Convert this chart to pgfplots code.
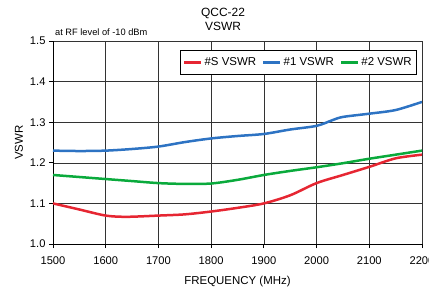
\documentclass[border=0pt]{standalone}
\usepackage{pgfplots}
\pgfplotsset{compat=1.18}
\usepackage{fontspec}
\setmainfont{Liberation Sans}
\definecolor{cred}{RGB}{230,38,50}
\definecolor{cblue}{RGB}{45,115,195}
\definecolor{cgreen}{RGB}{10,170,60}
\begin{document}
\begin{tikzpicture}
\begin{axis}[
  at={(0,0)}, anchor=south west,
  scale only axis, width=369bp, height=203bp,
  xmin=1500, xmax=2200, ymin=1.0, ymax=1.5,
  xtick={1500,1600,...,2200},
  ytick={1.0,1.1,...,1.5},
  yticklabel style={/pgf/number format/.cd,fixed,fixed zerofill,precision=1},
  xticklabel style={/pgf/number format/1000 sep={}, yshift=-5bp},
  /pgf/number format/assume math mode=true,
  ticklabel style={font=\fontsize{11.2}{13}\selectfont},
  axis x line*=bottom, axis y line*=left,
  axis line style={black, line width=1pt, -},
  tick align=outside, tick pos=left,
  major tick length=4bp,
  tick style={black, line width=0.8pt},
  grid=major,
  major grid style={black!80, line width=0.6pt},
  xlabel={FREQUENCY (MHz)},
  ylabel={VSWR},
  label style={font=\fontsize{11.5}{13}\selectfont},
  xlabel style={at={(axis description cs:0.5,0)}, anchor=center, yshift=-38bp},
  ylabel style={at={(axis description cs:0,0.5)}, anchor=center, yshift=34bp},
  legend columns=3,
  legend style={at={(0.9865,0.9557)}, anchor=north east,
    font=\fontsize{11.5}{13}\selectfont, draw=black, line width=0.6pt,
    inner xsep=3bp, inner ysep=5.5bp,
    /tikz/every even column/.append style={column sep=4bp}},
  every axis plot/.append style={line width=2.5bp, smooth},
]
\addplot[cred] coordinates {(1500,1.100) (1550,1.085) (1600,1.070) (1640,1.067) (1700,1.070) (1750,1.073) (1800,1.080) (1850,1.089) (1900,1.100) (1950,1.120) (2000,1.150) (2050,1.170) (2100,1.190) (2150,1.211) (2200,1.220)};
\addlegendentry{\#S VSWR}
\addplot[cblue] coordinates {(1500,1.230) (1550,1.229) (1600,1.230) (1650,1.234) (1700,1.240) (1750,1.251) (1800,1.260) (1850,1.266) (1900,1.271) (1950,1.282) (2000,1.291) (2030,1.305) (2050,1.313) (2100,1.321) (2150,1.330) (2200,1.350)};
\addlegendentry{\#1 VSWR}
\addplot[cgreen] coordinates {(1500,1.170) (1550,1.165) (1600,1.160) (1650,1.155) (1700,1.150) (1750,1.148) (1800,1.149) (1850,1.158) (1900,1.170) (1950,1.180) (2000,1.189) (2050,1.199) (2100,1.210) (2150,1.220) (2200,1.230)};
\addlegendentry{\#2 VSWR}
\end{axis}
\node[font=\fontsize{12}{14}\selectfont, align=center] at (170bp,225bp) {QCC-22\\VSWR};
\node[font=\fontsize{9.3}{11}\selectfont, anchor=west, inner sep=0pt] at (2bp,212bp) {at RF level of -10 dBm};
\pgfresetboundingbox
\path (-53bp,-43bp) rectangle (376bp,244bp);
\end{tikzpicture}
\end{document}
